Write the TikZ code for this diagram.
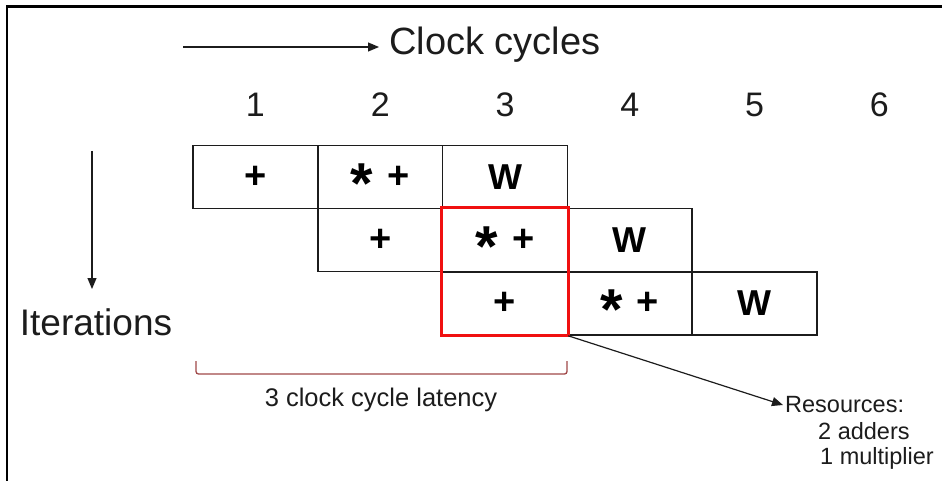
\documentclass[tikz,border=0pt]{standalone}
\usepackage{fontspec}
\setmainfont{Liberation Sans}
\usetikzlibrary{arrows.meta}
\definecolor{txt}{HTML}{1C1C1C}
\definecolor{brk}{HTML}{A04848}
\definecolor{hl}{HTML}{F01010}
\newcommand{\plsym}{{\fontsize{38}{38}\selectfont +}}
\newcommand{\astsym}{\smash{\raisebox{-15pt}{\scalebox{1.75}{\fontsize{33}{33}\selectfont *}}}}
\tikzset{
  cell/.style={draw=txt, line width=1.6pt, minimum width=124.8pt, minimum height=63pt, inner sep=0pt, font=\fontsize{36}{36}\selectfont\bfseries, text=black},
  big/.style={font=\fontsize{34}{34}\selectfont, text=txt, inner sep=2pt},
  small/.style={font=\fontsize{23.5}{23.5}\selectfont, text=txt, inner sep=2pt},
  arr/.style={draw=txt, line width=1.2pt, -{Triangle[length=11pt,width=9pt]}},
}
\begin{document}
\begin{tikzpicture}[x=1pt,y=-1pt]
\useasboundingbox (0,0) rectangle (942,481);
% frame (top and left edges)
\draw[line width=2.5pt, black] (942,6.5) -- (7,6.5) -- (7,481);
% title
\node[big, font=\fontsize{38}{38}\selectfont, anchor=west] (clock) at (387,45) {Clock cycles};
\coordinate (cstart) at (183,47);
\draw[arr, shorten >=8pt] (cstart) -- (cstart -| clock.west);
% cycle numbers
\foreach \i/\x in {1/255.4,2/380.2,3/505.0,4/629.8,5/754.6,6/879.4}
  \node[big] (n\i) at (\x,105) {\i};
% iterations
\node[big, font=\fontsize{37}{37}\selectfont] (iter) at (96,322) {Iterations};
\coordinate (itop) at (92,151);
\coordinate (ibot) at (92,289);
\draw[arr] (itop) -- (ibot);
% row 1
\node[cell] (r11) at (255.4,177) {\plsym};
\node[cell] (r12) at (380.2,177) {\astsym\hspace{14pt}\plsym};
\node[cell] (r13) at (505.0,177) {W};
% row 2
\node[cell] (r22) at (380.2,240) {\plsym};
\node[cell] (r23) at (505.0,240) {\astsym\hspace{14pt}\plsym};
\node[cell] (r24) at (629.8,240) {W};
% row 3
\node[cell] (r33) at (505.0,303.5) {\plsym};
\node[cell] (r34) at (629.8,303.5) {\astsym\hspace{14pt}\plsym};
\node[cell] (r35) at (754.6,303.5) {W};
% highlight
\draw[hl, line width=3pt] (r23.north west) rectangle (r33.south east);
% latency bracket
\draw[brk, line width=1.3pt, rounded corners=2.5pt] (196,361) -- (196,374) -- (567,374) -- (567,361);
\node[small, font=\fontsize{25.5}{25.5}\selectfont] (lat) at (381,400) {3 clock cycle latency};
% resources
\node[small, anchor=west] (res) at (783,405) {Resources:};
\node[small, anchor=west] (res2) at (816,431) {2 adders};
\node[small, anchor=west] (res3) at (818,458) {1 multiplier};
\draw[arr] (r33.south east) -- (res.west);
\end{tikzpicture}
\end{document}
